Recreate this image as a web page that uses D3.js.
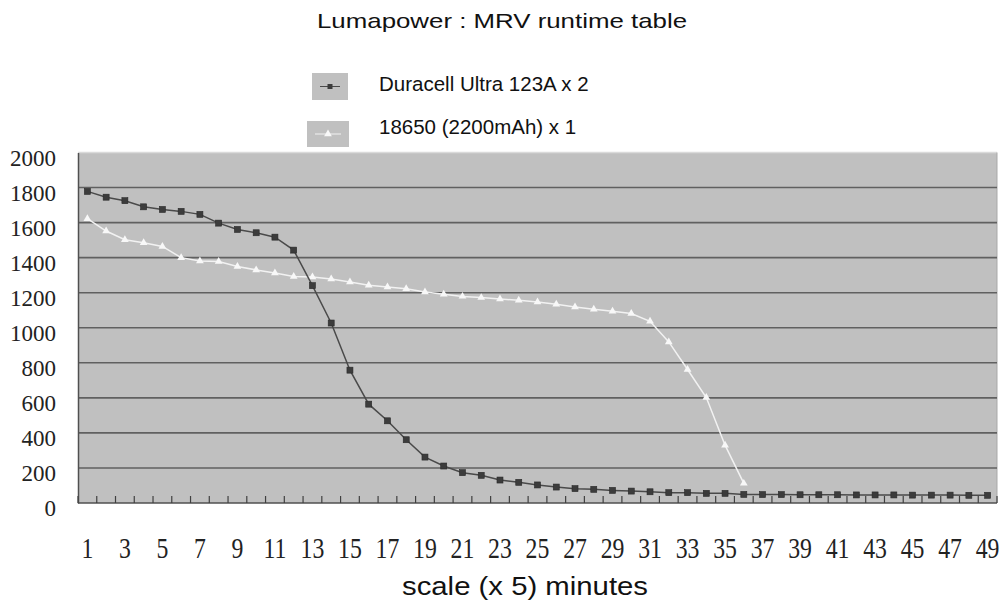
<!DOCTYPE html>
<html>
<head>
<meta charset="utf-8">
<script src="https://d3js.org/d3.v7.min.js"></script>
<style>
  body { margin: 0; background: #fff; }
  svg { display: block; }
</style>
</head>
<body>
<div id="chart"></div>
<script>
// runtime readings, one every 5 minutes
const steps = d3.range(1, 50);
const duracell = [1778, 1745, 1725, 1690, 1675, 1664, 1647, 1597, 1561, 1542,
                  1517, 1443, 1240, 1027, 758, 564, 469, 361, 262, 211,
                  173, 158, 131, 118, 103, 91, 82, 78, 72, 68,
                  64, 59, 59, 55, 55, 49, 48, 48, 47, 47,
                  47, 46, 46, 46, 45, 45, 45, 44, 44];
const li18650 = [1622, 1552, 1502, 1485, 1464, 1400, 1381, 1378, 1350, 1330,
                 1312, 1293, 1290, 1278, 1261, 1242, 1233, 1223, 1204, 1191,
                 1179, 1172, 1164, 1157, 1147, 1134, 1119, 1105, 1094, 1081,
                 1037, 919, 762, 602, 330, 112];
const yTicks = [0, 200, 400, 600, 800, 1000, 1200, 1400, 1600, 1800, 2000];
const seriesNames = ["Duracell Ultra 123A x 2", "18650 (2200mAh) x 1"];

const width = 1002, height = 605;
const plot = {left: 78, right: 997, top: 152.5, bottom: 503};
const serif = "'Liberation Serif', 'Times New Roman', serif";
const sans = "'Liberation Sans', Arial, sans-serif";

const svg = d3.select("#chart").append("svg")
    .attr("width", width)
    .attr("height", height);

const x = d3.scaleBand()
    .domain(steps)
    .range([plot.left, plot.right])
    .padding(0);
const cx = d => x(d) + x.bandwidth() / 2;

const y = d3.scaleLinear()
    .domain([0, 2000])
    .range([plot.bottom, plot.top]);

///////////////
/// Plot bg ///
///////////////

svg.append("rect")
    .attr("x", plot.left)
    .attr("y", plot.top)
    .attr("width", plot.right - plot.left)
    .attr("height", plot.bottom - plot.top)
    .attr("fill", "#c0c0c0");

// top and right edges
svg.append("line")
    .attr("x1", plot.left).attr("x2", plot.right)
    .attr("y1", plot.top).attr("y2", plot.top)
    .attr("stroke", "#dadada").attr("stroke-width", 1.5);
svg.append("line")
    .attr("x1", plot.right).attr("x2", plot.right)
    .attr("y1", plot.top).attr("y2", plot.bottom)
    .attr("stroke", "#a9a9a9").attr("stroke-width", 1);

// gridlines
svg.append("g")
    .selectAll("line")
    .data(yTicks.filter(v => v > 0 && v < 2000))
    .enter()
    .append("line")
    .attr("x1", plot.left).attr("x2", plot.right)
    .attr("y1", d => y(d)).attr("y2", d => y(d))
    .attr("stroke", "#606060")
    .attr("stroke-width", 1.6);

////////////
/// Axes ///
////////////

svg.append("g")
    .attr("transform", "translate(" + plot.left + ",0)")
    .call(d3.axisLeft(y).tickValues(yTicks).tickFormat(d3.format("d")).tickSize(0).tickPadding(22))
    .attr("font-family", serif)
    .attr("font-size", 23)
    .call(g => g.select(".domain").attr("stroke", "#505050").attr("stroke-width", 1.5))
    .call(g => g.selectAll("text")
        .attr("dy", "0.55em")
        .attr("fill", "#222"));

// bottom axis line and the little ticks between categories
const ticksAt = steps.map(d => x(d)).concat([plot.right]);
svg.append("line")
    .attr("x1", plot.left).attr("x2", plot.right)
    .attr("y1", plot.bottom).attr("y2", plot.bottom)
    .attr("stroke", "#505050").attr("stroke-width", 1.5);
svg.append("g")
    .selectAll("line")
    .data(ticksAt)
    .enter()
    .append("line")
    .attr("x1", d => d).attr("x2", d => d)
    .attr("y1", plot.bottom).attr("y2", plot.bottom - 7)
    .attr("stroke", "#404040")
    .attr("stroke-width", 1.2);

// category labels, only every other one
svg.append("g")
    .selectAll("text")
    .data(steps.filter(d => d % 2 === 1))
    .enter()
    .append("text")
    .attr("transform", d => "translate(" + cx(d) + ",558) scale(0.82,1)")
    .attr("text-anchor", "middle")
    .attr("fill", "#222")
    .style("font-family", serif)
    .style("font-size", "29px")
    .text(d => d);

//////////////
/// Series ///
//////////////

const line = d3.line()
    .x((d, i) => cx(steps[i]))
    .y(d => y(d));

svg.append("path")
    .datum(li18650)
    .attr("d", line)
    .attr("fill", "none")
    .attr("stroke", "#f2f2f2")
    .attr("stroke-width", 1.5);

const tri = d3.symbol().type(d3.symbolTriangle).size(26);
svg.append("g")
    .selectAll("path")
    .data(li18650)
    .enter()
    .append("path")
    .attr("d", tri)
    .attr("transform", (d, i) => "translate(" + cx(steps[i]) + "," + y(d) + ")")
    .attr("fill", "#f8f8f8");

svg.append("path")
    .datum(duracell)
    .attr("d", line)
    .attr("fill", "none")
    .attr("stroke", "#4a4a4a")
    .attr("stroke-width", 1.5);

svg.append("g")
    .selectAll("rect")
    .data(duracell)
    .enter()
    .append("rect")
    .attr("x", (d, i) => cx(steps[i]) - 3)
    .attr("y", d => y(d) - 3)
    .attr("width", 6)
    .attr("height", 6)
    .attr("fill", "#3c3c3c")
    .attr("stroke", "#2a2a2a")
    .attr("stroke-width", 0.6);

//////////////
/// Titles ///
//////////////

svg.append("text")
    .attr("x", 317).attr("y", 28)
    .attr("textLength", 370)
    .attr("lengthAdjust", "spacingAndGlyphs")
    .attr("fill", "#111")
    .style("font-family", sans)
    .style("font-size", "21px")
    .text("Lumapower : MRV runtime table");

svg.append("text")
    .attr("x", 402).attr("y", 595)
    .attr("textLength", 246)
    .attr("lengthAdjust", "spacingAndGlyphs")
    .attr("fill", "#111")
    .style("font-family", sans)
    .style("font-size", "25px")
    .text("scale (x 5) minutes");

//////////////
/// Legend ///
//////////////

const legend = [
    {name: seriesNames[0], box: [312, 73, 36, 27], ty: 91, stroke: "#4a4a4a", mark: "square"},
    {name: seriesNames[1], box: [307, 121, 42, 26], ty: 134, stroke: "#f2f2f2", mark: "tri"}
];

legend.forEach(l => {
    const [bx, by, bw, bh] = l.box;
    const g = svg.append("g");
    g.append("rect")
        .attr("x", bx).attr("y", by)
        .attr("width", bw).attr("height", bh)
        .attr("fill", "#c0c0c0");
    const my = by + bh / 2;
    g.append("line")
        .attr("x1", bx + 8).attr("x2", bx + bw - 8)
        .attr("y1", my).attr("y2", my)
        .attr("stroke", l.stroke).attr("stroke-width", 1);
    if (l.mark === "square") {
        g.append("rect")
            .attr("x", bx + bw / 2 - 2.5).attr("y", my - 2.5)
            .attr("width", 5).attr("height", 5)
            .attr("fill", "#3c3c3c");
    } else {
        g.append("path")
            .attr("d", tri)
            .attr("transform", "translate(" + (bx + bw / 2) + "," + my + ")")
            .attr("fill", "#f8f8f8");
    }
    g.append("text")
        .attr("x", 379).attr("y", l.ty)
        .attr("fill", "#111")
        .style("font-family", sans)
        .style("font-size", "20.5px")
        .text(l.name);
});
</script>
</body>
</html>
